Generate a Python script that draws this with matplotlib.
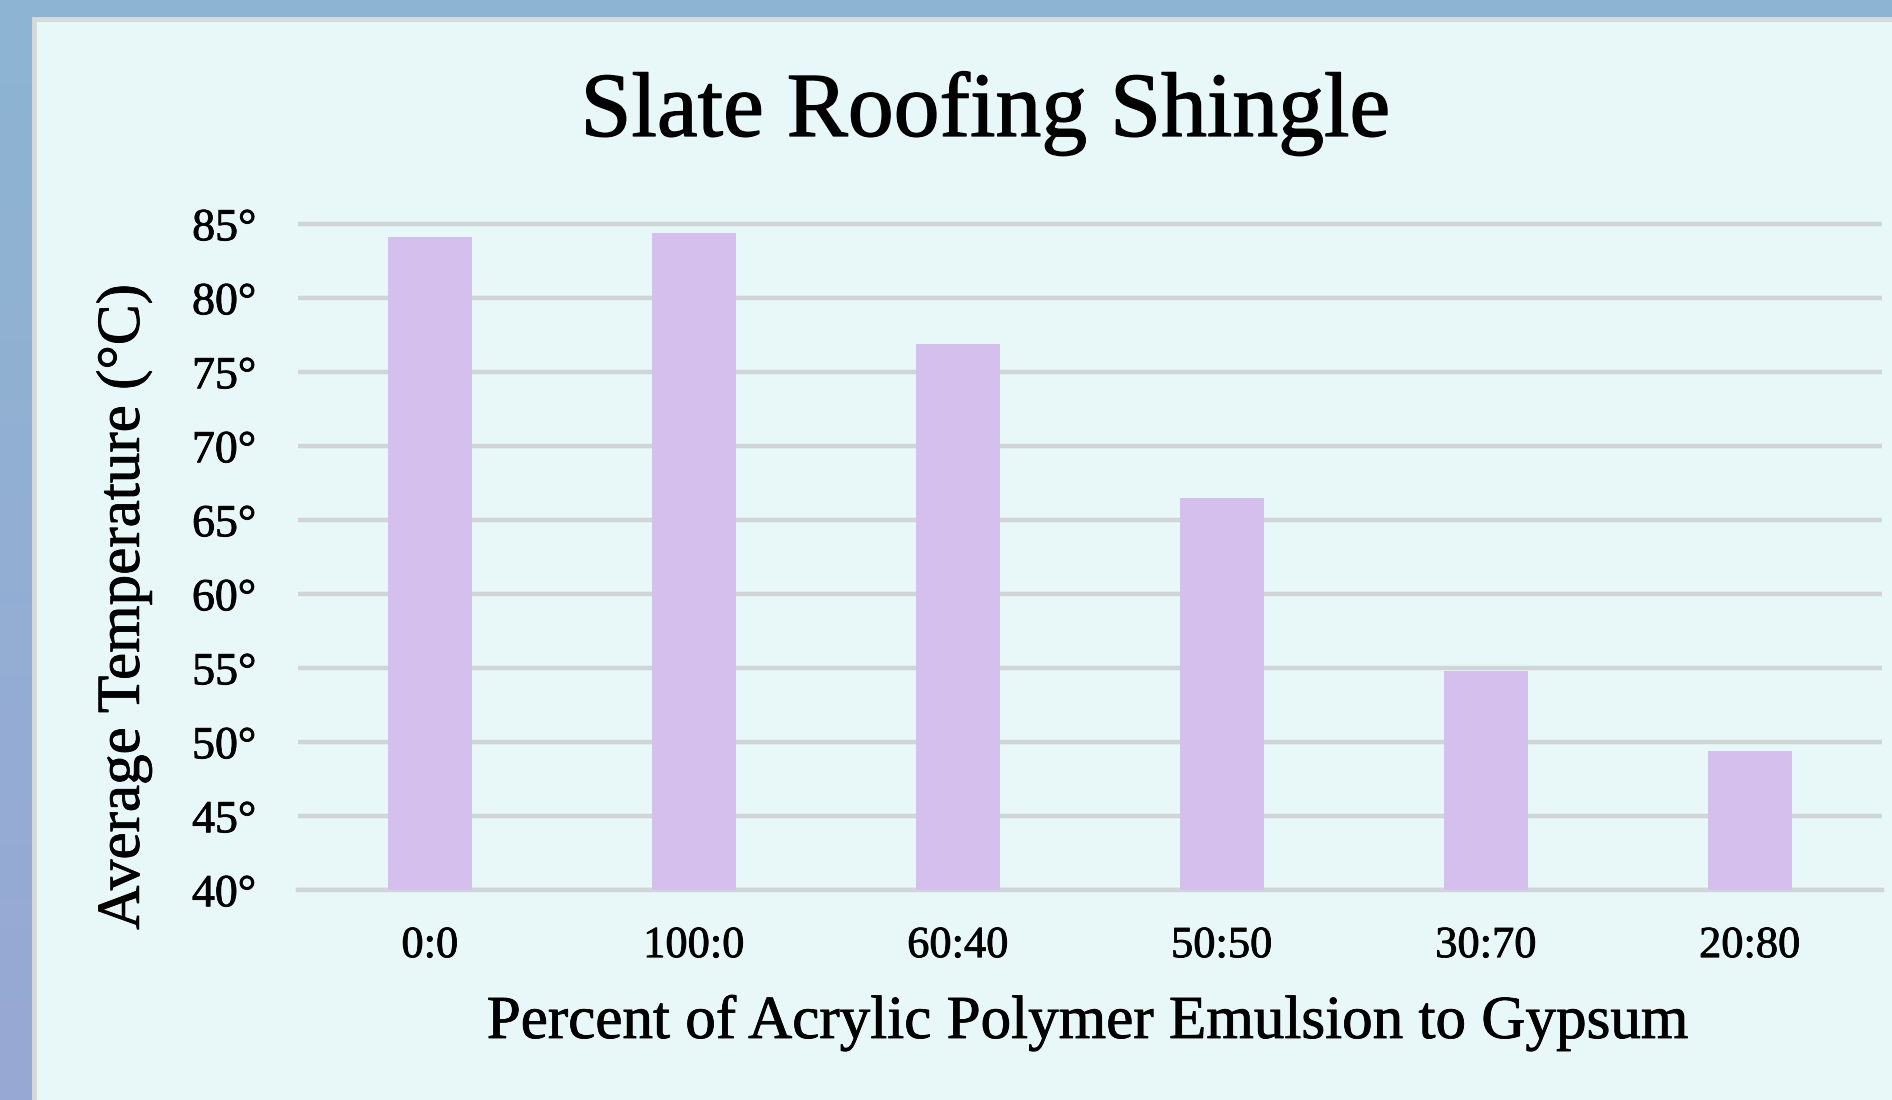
import numpy as np
import matplotlib
matplotlib.use("Agg")
import matplotlib.pyplot as plt
import matplotlib.patheffects as pe
from matplotlib.patches import Rectangle

# Data
categories = ["0:0", "100:0", "60:40", "50:50", "30:70", "20:80"]
avg_temp = [84.1, 84.4, 76.9, 66.5, 54.8, 49.4]
y_ticks = [40, 45, 50, 55, 60, 65, 70, 75, 80, 85]
y_tick_labels = [f"{t}°" for t in y_ticks]

title = "Slate Roofing Shingle"
x_label = "Percent of Acrylic Polymer Emulsion to Gypsum"
y_label = "Average Temperature (°C)"

W, H = 1892, 1100
DPI = 100
plt.rcParams["font.family"] = ["Liberation Serif", "DejaVu Serif"]

# slightly heavier glyphs
heavy = [pe.withStroke(linewidth=0.9, foreground="black")]
medium = [pe.withStroke(linewidth=0.6, foreground="black")]

fig = plt.figure(figsize=(W / DPI, H / DPI), dpi=DPI)

# Backdrop: soft blue gradient frame with a pale panel on top
bg = fig.add_axes([0, 0, 1, 1], zorder=-10)
bg.set_axis_off()
top_c = np.array([141, 181, 210]) / 255.0
bot_c = np.array([152, 168, 212]) / 255.0
t = np.linspace(0, 1, 256)[:, None, None]
grad = top_c * (1 - t) + bot_c * t
grad = np.repeat(grad, 4, axis=1)
bg.imshow(grad, extent=[0, W, H, 0], aspect="auto")
bg.set_xlim(0, W)
bg.set_ylim(H, 0)
bg.add_patch(Rectangle((34, 19), W - 34 + 10, H - 19 + 10,
                       facecolor="#e8f7f7", edgecolor="#d6dada", linewidth=3.5))

# Plot area
px_per_unit = 14.8
pad_units = 0.3
ax_left, ax_right = 298, 1882
ax_top = 224 - pad_units * px_per_unit
ax_bottom = 890
ax = fig.add_axes([ax_left / W, 1 - ax_bottom / H,
                   (ax_right - ax_left) / W, (ax_bottom - ax_top) / H])
ax.patch.set_alpha(0)

x = np.arange(len(categories))
base = 40
ax.bar(x, np.array(avg_temp) - base, bottom=base, width=0.32,
       color="#d5bfec", zorder=3)

ax.set_xlim(-0.5, len(categories) - 0.5)
ax.set_ylim(base, 85 + pad_units)
ax.set_yticks(y_ticks)
ax.set_yticklabels(y_tick_labels, fontsize=33)
ax.set_xticks(x)
ax.set_xticklabels(categories, fontsize=32)
ax.tick_params(axis="both", length=0, colors="black")
ax.tick_params(axis="y", pad=30)
ax.tick_params(axis="x", pad=26)
for lbl in ax.get_xticklabels() + ax.get_yticklabels():
    lbl.set_path_effects(medium)

ax.yaxis.grid(True, color="#d0d5d8", linewidth=3.2, zorder=1)
ax.xaxis.grid(False)
ax.set_axisbelow(True)
for s in ax.spines.values():
    s.set_visible(False)
# Keep the 40° baseline fully visible
ax.axhline(base, color="#d0d5d8", linewidth=3.2, zorder=1, clip_on=False)

fig.text(985 / W, 1 - 136 / H, title, ha="center", va="baseline", fontsize=66,
         path_effects=heavy)
fig.text(1088 / W, 1 - 1038 / H, x_label, ha="center", va="baseline", fontsize=44,
         path_effects=medium)
fig.text(124 / W, 1 - 607 / H, y_label, ha="center", va="center",
         rotation=90, fontsize=44, path_effects=medium)

fig.savefig("out.png", dpi=DPI)
